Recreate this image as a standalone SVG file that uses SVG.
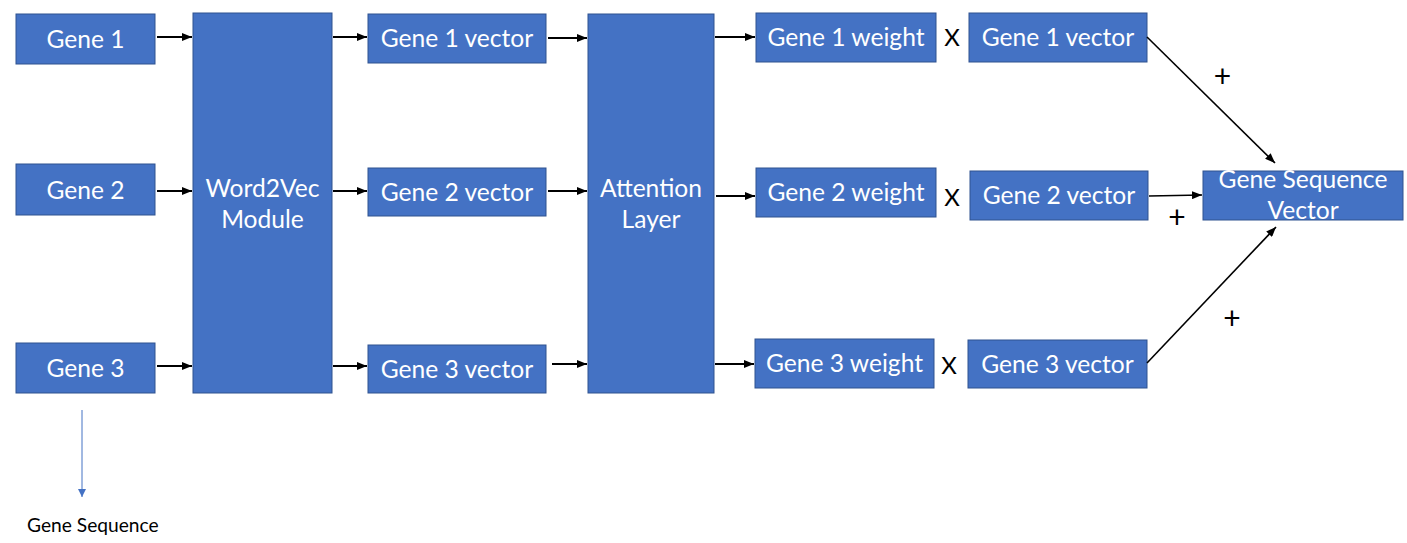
<svg xmlns="http://www.w3.org/2000/svg" width="1407" height="543" viewBox="0 0 1407 543">
<style>
.box{fill:#4472C4;stroke:#2F528F;stroke-width:1}
.lbl{font-family:Lato,"Open Sans",sans-serif;font-size:24.6px;fill:#FFFFFF;text-anchor:middle}
.op{font-family:Lato,"Open Sans",sans-serif;font-size:24px;fill:#000000;text-anchor:middle}
.pl{font-family:Lato,"Open Sans",sans-serif;font-size:30px;fill:#000000;text-anchor:middle}
.cap{font-family:Lato,"Open Sans",sans-serif;font-size:19.2px;fill:#000000}
.arr{stroke:#000000;stroke-width:2;fill:none;marker-end:url(#ah)}
.diag{stroke:#000000;stroke-width:1.6;fill:none;marker-end:url(#ah)}
.blue{stroke:#4472C4;stroke-width:1;fill:none;marker-end:url(#bh)}
</style>
<defs>
<marker id="ah" markerUnits="userSpaceOnUse" markerWidth="10" markerHeight="8" refX="10" refY="4" orient="auto">
<path d="M0,0 L10,4 L0,8 Z" fill="#000000"/>
</marker>
<marker id="bh" markerUnits="userSpaceOnUse" markerWidth="8" markerHeight="8" refX="8" refY="4" orient="auto">
<path d="M0,0 L8,4 L0,8 Z" fill="#4472C4"/>
</marker>
</defs>
<rect width="1407" height="543" fill="#FFFFFF"/>

<g id="gene1"><rect class="box" x="16" y="14" width="139" height="50"/><text class="lbl" x="85.5" y="48">Gene 1</text></g>
<g id="gene2"><rect class="box" x="16" y="164" width="139" height="51"/><text class="lbl" x="85.5" y="198.5">Gene 2</text></g>
<g id="gene3"><rect class="box" x="16" y="343" width="139" height="50"/><text class="lbl" x="85.5" y="377">Gene 3</text></g>

<g id="word2vec"><rect class="box" x="193" y="13" width="139" height="380"/><text class="lbl" x="262.5" y="197">Word2Vec</text><text class="lbl" x="262.5" y="228">Module</text></g>

<g id="vec1"><rect class="box" x="368" y="14" width="178" height="49"/><text class="lbl" x="457" y="47">Gene 1 vector</text></g>
<g id="vec2"><rect class="box" x="368" y="168" width="178" height="48"/><text class="lbl" x="457" y="200.5">Gene 2 vector</text></g>
<g id="vec3"><rect class="box" x="368" y="345" width="178" height="48"/><text class="lbl" x="457" y="377.5">Gene 3 vector</text></g>

<g id="attention"><rect class="box" x="588" y="14" width="126" height="379"/><text class="lbl" x="651" y="197">Attention</text><text class="lbl" x="651" y="228">Layer</text></g>

<g id="weight1"><rect class="box" x="756" y="13" width="180" height="49"/><text class="lbl" x="846" y="45.5">Gene 1 weight</text></g>
<g id="weight2"><rect class="box" x="756" y="168" width="180" height="49"/><text class="lbl" x="846" y="200.5">Gene 2 weight</text></g>
<g id="weight3"><rect class="box" x="755" y="339" width="179" height="49"/><text class="lbl" x="844.5" y="372">Gene 3 weight</text></g>

<g id="x1"><text class="op" x="952" y="46">X</text></g>
<g id="x2"><text class="op" x="952" y="206">X</text></g>
<g id="x3"><text class="op" x="949" y="374">X</text></g>

<g id="rvec1"><rect class="box" x="969" y="13" width="178" height="49"/><text class="lbl" x="1058" y="46">Gene 1 vector</text></g>
<g id="rvec2"><rect class="box" x="970" y="171" width="178" height="49"/><text class="lbl" x="1059" y="204">Gene 2 vector</text></g>
<g id="rvec3"><rect class="box" x="968" y="340" width="179" height="48"/><text class="lbl" x="1057.5" y="373">Gene 3 vector</text></g>

<g id="seqvec"><rect class="box" x="1203" y="171" width="200" height="49"/><text class="lbl" x="1303" y="188">Gene Sequence</text><text class="lbl" x="1303" y="219">Vector</text></g>

<g id="plus1"><text class="pl" x="1222.5" y="87">+</text></g>
<g id="plus2"><text class="pl" x="1177" y="228">+</text></g>
<g id="plus3"><text class="pl" x="1232" y="329">+</text></g>

<g id="caption"><text class="cap" x="27" y="532">Gene Sequence</text></g>

<g id="connectors">
<line class="arr" x1="157" y1="37" x2="192" y2="37"/>
<line class="arr" x1="157" y1="191" x2="192" y2="191"/>
<line class="arr" x1="157" y1="366" x2="192" y2="366"/>
<line class="arr" x1="333" y1="37" x2="367" y2="37"/>
<line class="arr" x1="333" y1="191" x2="367" y2="191"/>
<line class="arr" x1="333" y1="366" x2="367" y2="366"/>
<line class="arr" x1="548" y1="38" x2="587" y2="38"/>
<line class="arr" x1="548" y1="191" x2="587" y2="191"/>
<line class="arr" x1="552" y1="364" x2="587" y2="364"/>
<line class="arr" x1="715" y1="37" x2="755" y2="37"/>
<line class="arr" x1="716" y1="196" x2="755" y2="196"/>
<line class="arr" x1="715" y1="364" x2="754" y2="364"/>
<line class="diag" x1="1147" y1="37" x2="1275" y2="163"/>
<line class="diag" x1="1149" y1="196" x2="1202" y2="195"/>
<line class="diag" x1="1147" y1="363" x2="1276" y2="227"/>
<line class="blue" x1="82" y1="410" x2="82" y2="497"/>
</g>
</svg>
